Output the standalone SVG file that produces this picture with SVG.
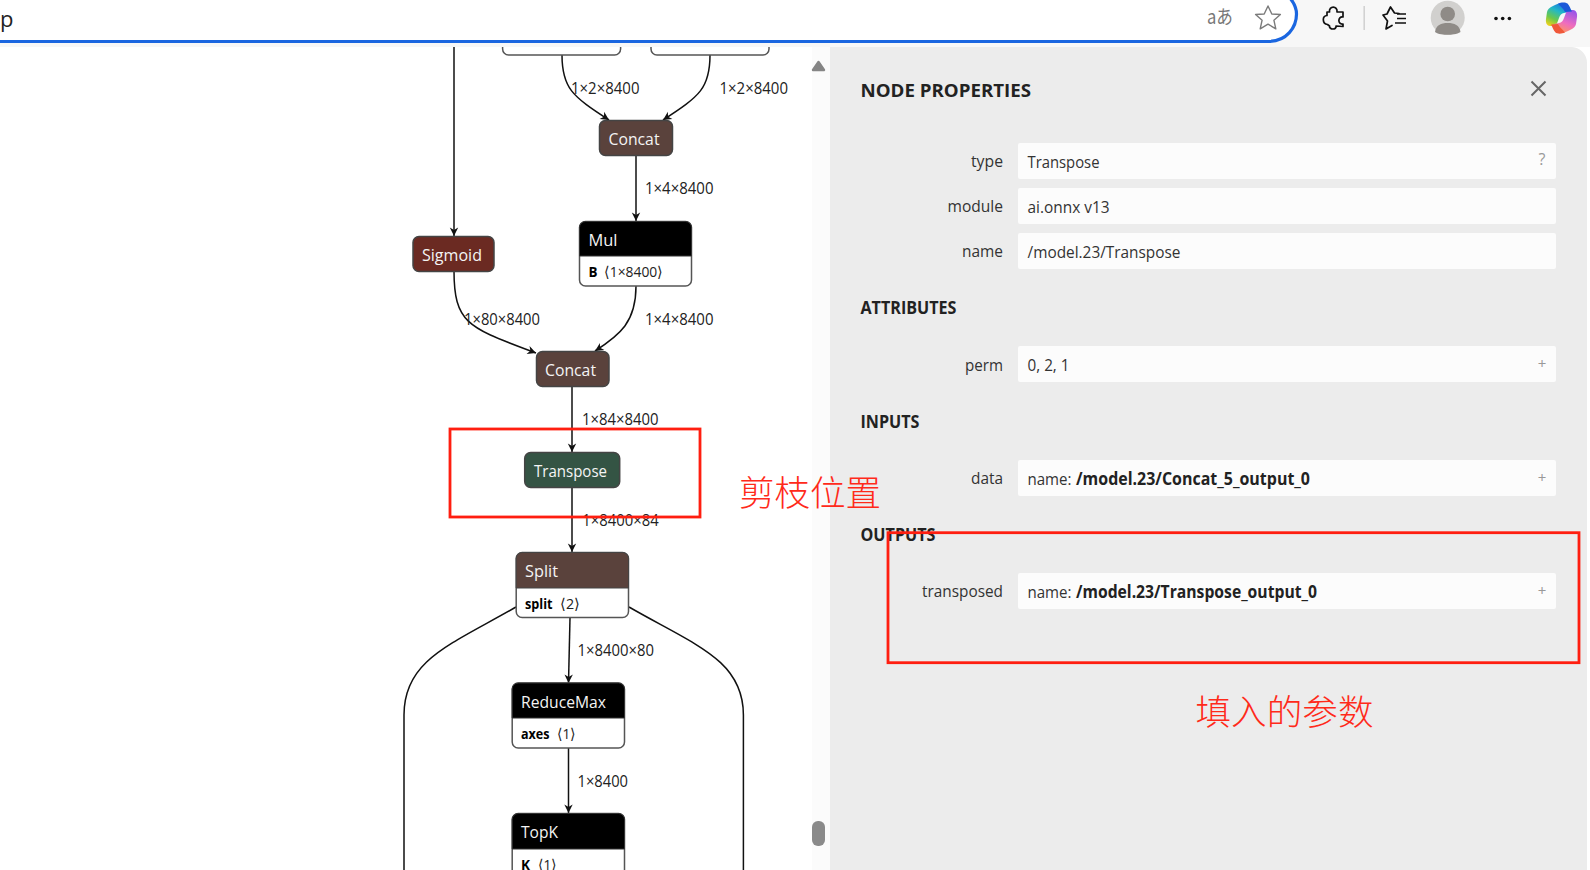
<svg xmlns="http://www.w3.org/2000/svg" width="1590" height="870" viewBox="0 0 1590 870">
<style>
text{font-family:"Open Sans","Noto Sans",sans-serif}
.edge{fill:none;stroke:#111;stroke-width:1.5}
.elab{font-size:15.5px;fill:#222}
.box{stroke:#444;stroke-width:1.5}
.title{font-size:17px;fill:#f4f4f4}
.attr{font-size:13.5px;fill:#000;font-weight:700}
.val{font-size:14.5px;fill:#222}
.body{fill:#fff;stroke:#555;stroke-width:1.5}
.field{fill:#fcfcfc}
.plabel{font-size:17px;fill:#333}
.pval{font-size:17px;fill:#333}
.pbold{font-size:17px;fill:#222;font-weight:700}
.phead{font-size:17px;fill:#222;font-weight:700}
.sign{font-size:15px;fill:#999}
.red{fill:none;stroke:#ff1e10;stroke-width:2.8}
.cjk{font-family:"Noto Sans CJK SC",sans-serif;font-size:35px;font-weight:300;fill:#ff2a1a}
</style>
<defs>
<marker id="arrow" markerUnits="userSpaceOnUse" markerWidth="10" markerHeight="10" refX="9" refY="5" orient="auto">
<path d="M0.5 0.8 L9 5 L0.5 9.2 L3 5 Z" fill="#111"/>
</marker>
<linearGradient id="copL" x1="0.7" y1="0" x2="0.2" y2="1">
<stop offset="0" stop-color="#1a6fe0"/><stop offset="0.35" stop-color="#22b8c8"/><stop offset="0.7" stop-color="#6cc84a"/><stop offset="1" stop-color="#ecd21e"/>
</linearGradient>
<linearGradient id="copR" x1="0.7" y1="0" x2="0.3" y2="1">
<stop offset="0" stop-color="#9a55e8"/><stop offset="0.55" stop-color="#ee6cc0"/><stop offset="1" stop-color="#ff9a5a"/>
</linearGradient>
</defs>

<rect x="0" y="0" width="1590" height="870" fill="#fff"/>
<rect x="812" y="47" width="18" height="823" fill="#fbfbfb"/>

<g id="connectors">
<path class="edge" d="M454 47 L454 236" marker-end="url(#arrow)"/>
<path class="edge" d="M562 55 C562 88 572 96 609 120" marker-end="url(#arrow)"/>
<path class="edge" d="M710 55 C710 88 700 96 663 120" marker-end="url(#arrow)"/>
<path class="edge" d="M636 156 L636 221" marker-end="url(#arrow)"/>
<path class="edge" d="M454 271 C454 325 470 328 536 353" marker-end="url(#arrow)"/>
<path class="edge" d="M636 286 C636 322 620 335 595 351" marker-end="url(#arrow)"/>
<path class="edge" d="M572 387 L572 452" marker-end="url(#arrow)"/>
<path class="edge" d="M572 487 L572 552" marker-end="url(#arrow)"/>
<path class="edge" d="M570 618 L568.5 683" marker-end="url(#arrow)"/>
<path class="edge" d="M568.5 748 L568.5 813" marker-end="url(#arrow)"/>
<path class="edge" d="M516 607 C450 645 404 660 404 715 L404 870"/>
<path class="edge" d="M629 607 C695 645 743.4 660 743.4 715 L743.4 870"/>
<text class="elab" x="571" y="93.5" textLength="68.5" lengthAdjust="spacingAndGlyphs">1×2×8400</text>
<text class="elab" x="719.5" y="93.5" textLength="68.5" lengthAdjust="spacingAndGlyphs">1×2×8400</text>
<text class="elab" x="645" y="193.5" textLength="68.5" lengthAdjust="spacingAndGlyphs">1×4×8400</text>
<text class="elab" x="464" y="324.5" textLength="76" lengthAdjust="spacingAndGlyphs">1×80×8400</text>
<text class="elab" x="645" y="324.5" textLength="68.5" lengthAdjust="spacingAndGlyphs">1×4×8400</text>
<text class="elab" x="582" y="424.5" textLength="76.5" lengthAdjust="spacingAndGlyphs">1×84×8400</text>
<text class="elab" x="582.2" y="525.5" textLength="76.5" lengthAdjust="spacingAndGlyphs">1×8400×84</text>
<text class="elab" x="577.5" y="655.5" textLength="76.5" lengthAdjust="spacingAndGlyphs">1×8400×80</text>
<text class="elab" x="577.5" y="786.5" textLength="50.5" lengthAdjust="spacingAndGlyphs">1×8400</text>
</g>

<g id="node-top-left"><rect class="body" x="502.6" y="20" width="118" height="35" rx="6"/></g>
<g id="node-top-right"><rect class="body" x="651" y="20" width="118" height="35" rx="6"/></g>

<g id="node-concat-1">
<rect class="box" x="599.5" y="120.5" width="73" height="35" rx="6" fill="#5a423c"/>
<text class="title" x="608.5" y="145" textLength="51" lengthAdjust="spacingAndGlyphs">Concat</text>
</g>
<g id="node-sigmoid">
<rect class="box" x="413" y="236.5" width="81" height="35" rx="6" fill="#6b2a22"/>
<text class="title" x="422" y="261" textLength="60" lengthAdjust="spacingAndGlyphs">Sigmoid</text>
</g>
<g id="node-mul">
<rect class="body" x="579.5" y="221.5" width="112" height="64.5" rx="6"/>
<path d="M579.5 256 L579.5 227.5 A6 6 0 0 1 585.5 221.5 L685.5 221.5 A6 6 0 0 1 691.5 227.5 L691.5 256 Z" fill="#000" stroke="#333" stroke-width="1"/>
<text class="title" x="588.5" y="246" textLength="29" lengthAdjust="spacingAndGlyphs">Mul</text>
<text class="attr" x="588.5" y="277" textLength="9" lengthAdjust="spacingAndGlyphs">B</text>
<text class="val" x="604" y="277" textLength="59" lengthAdjust="spacingAndGlyphs">⟨1×8400⟩</text>
</g>
<g id="node-concat-2">
<rect class="box" x="536.5" y="351.5" width="72.5" height="35" rx="6" fill="#5a423c"/>
<text class="title" x="545" y="376" textLength="51" lengthAdjust="spacingAndGlyphs">Concat</text>
</g>
<g id="node-transpose">
<rect class="box" x="524.7" y="452.5" width="95" height="35" rx="6" fill="#345444"/>
<text class="title" x="534" y="477" textLength="73" lengthAdjust="spacingAndGlyphs">Transpose</text>
</g>
<g id="node-split">
<rect class="body" x="516.2" y="552.5" width="112.3" height="65" rx="6"/>
<path d="M516.2 588 L516.2 558.5 A6 6 0 0 1 522.2 552.5 L622.5 552.5 A6 6 0 0 1 628.5 558.5 L628.5 588 Z" fill="#5a423c" stroke="#444" stroke-width="1"/>
<text class="title" x="525" y="577" textLength="33" lengthAdjust="spacingAndGlyphs">Split</text>
<text class="attr" x="525" y="609" textLength="27.5" lengthAdjust="spacingAndGlyphs">split</text>
<text class="val" x="560" y="609" textLength="20" lengthAdjust="spacingAndGlyphs">⟨2⟩</text>
</g>
<g id="node-reducemax">
<rect class="body" x="512.2" y="683" width="112.3" height="65" rx="6"/>
<path d="M512.2 718 L512.2 689 A6 6 0 0 1 518.2 683 L618.5 683 A6 6 0 0 1 624.5 689 L624.5 718 Z" fill="#000" stroke="#333" stroke-width="1"/>
<text class="title" x="521" y="707.5" textLength="85" lengthAdjust="spacingAndGlyphs">ReduceMax</text>
<text class="attr" x="521" y="739" textLength="28.5" lengthAdjust="spacingAndGlyphs">axes</text>
<text class="val" x="557" y="739" textLength="19" lengthAdjust="spacingAndGlyphs">⟨1⟩</text>
</g>
<g id="node-topk">
<rect class="body" x="512.2" y="813.5" width="112.3" height="70" rx="6"/>
<path d="M512.2 849 L512.2 819.5 A6 6 0 0 1 518.2 813.5 L618.5 813.5 A6 6 0 0 1 624.5 819.5 L624.5 849 Z" fill="#000" stroke="#333" stroke-width="1"/>
<text class="title" x="521" y="838" textLength="37" lengthAdjust="spacingAndGlyphs">TopK</text>
<text class="attr" x="521" y="869.5" textLength="9" lengthAdjust="spacingAndGlyphs">K</text>
<text class="val" x="538" y="869.5" textLength="19" lengthAdjust="spacingAndGlyphs">⟨1⟩</text>
</g>

<polygon id="scroll-up" points="818.5,62 824,70 813,70" fill="#858585" stroke="#858585" stroke-width="2.4" stroke-linejoin="round"/>
<rect id="scroll-thumb" x="812" y="821" width="13" height="25" rx="6" fill="#8a8a8a"/>

<g id="panel">
<path d="M830 47 L1572 47 A16 16 0 0 1 1587 63 L1587 870 L830 870 Z" fill="#ececec"/>
<text class="phead" x="860.5" y="97" textLength="170.5" lengthAdjust="spacingAndGlyphs" style="font-size:18px">NODE PROPERTIES</text>
<path d="M1531.5 81.5 L1545.5 95.5 M1545.5 81.5 L1531.5 95.5" stroke="#666" stroke-width="2" fill="none"/>
<rect class="field" x="1018" y="143" width="538" height="36" rx="2"/>
<rect class="field" x="1018" y="188" width="538" height="36" rx="2"/>
<rect class="field" x="1018" y="233" width="538" height="36" rx="2"/>
<rect class="field" x="1018" y="346" width="538" height="36" rx="2"/>
<rect class="field" x="1018" y="460" width="538" height="36" rx="2"/>
<rect class="field" x="1018" y="573" width="538" height="36" rx="2"/>
<text class="plabel" x="971" y="167" textLength="32" lengthAdjust="spacingAndGlyphs">type</text>
<text class="plabel" x="947.5" y="212" textLength="55.5" lengthAdjust="spacingAndGlyphs">module</text>
<text class="plabel" x="962" y="257" textLength="41" lengthAdjust="spacingAndGlyphs">name</text>
<text class="phead" x="860.5" y="314" textLength="96" lengthAdjust="spacingAndGlyphs">ATTRIBUTES</text>
<text class="plabel" x="965" y="370.5" textLength="38" lengthAdjust="spacingAndGlyphs">perm</text>
<text class="phead" x="860.5" y="428" textLength="59" lengthAdjust="spacingAndGlyphs">INPUTS</text>
<text class="plabel" x="971" y="484" textLength="32" lengthAdjust="spacingAndGlyphs">data</text>
<text class="phead" x="860.5" y="541" textLength="75" lengthAdjust="spacingAndGlyphs">OUTPUTS</text>
<text class="plabel" x="922" y="597" textLength="81" lengthAdjust="spacingAndGlyphs">transposed</text>
<text class="pval" x="1027.5" y="168" textLength="72" lengthAdjust="spacingAndGlyphs">Transpose</text>
<text class="pval" x="1027.5" y="213" textLength="82" lengthAdjust="spacingAndGlyphs">ai.onnx v13</text>
<text class="pval" x="1027.5" y="258" textLength="153" lengthAdjust="spacingAndGlyphs">/model.23/Transpose</text>
<text class="pval" x="1027.5" y="371" textLength="42" lengthAdjust="spacingAndGlyphs">0, 2, 1</text>
<text class="pval" x="1027.5" y="484.5" textLength="44" lengthAdjust="spacingAndGlyphs">name:</text>
<text class="pbold" x="1076" y="484.5" textLength="234" lengthAdjust="spacingAndGlyphs">/model.23/Concat_5_output_0</text>
<text class="pval" x="1027.5" y="597.5" textLength="44" lengthAdjust="spacingAndGlyphs">name:</text>
<text class="pbold" x="1076" y="597.5" textLength="241" lengthAdjust="spacingAndGlyphs">/model.23/Transpose_output_0</text>
<text class="sign" x="1542" y="165" text-anchor="middle" style="font-size:16px">?</text>
<text class="sign" x="1542" y="369" text-anchor="middle">+</text>
<text class="sign" x="1542" y="483" text-anchor="middle">+</text>
<text class="sign" x="1542" y="596" text-anchor="middle">+</text>
</g>

<g id="toolbar">
<rect x="0" y="0" width="1590" height="47" fill="#f7f7f7"/>
<path d="M0 41.5 L1268 41.5 C1287 41.5 1296.5 27 1296.5 14 C1296.5 8 1294 3 1290 -2 L0 -2 Z" fill="#fff"/>
<path d="M-3 41.5 L1268 41.5 C1287 41.5 1296.5 27 1296.5 14 C1296.5 8 1294 3 1290 -2" fill="none" stroke="#1a66e0" stroke-width="3.2"/>
<text x="0" y="27" font-size="22" fill="#222">p</text>
<text x="1207" y="24" style="font-family:'Noto Sans CJK JP',sans-serif;font-size:19px;fill:#777" textLength="26" lengthAdjust="spacingAndGlyphs">aあ</text>
<path d="M1268 6 L1271.8 14 L1280.4 14.5 L1273.9 20.2 L1275.8 28.8 L1268 24.2 L1260.2 28.8 L1262.1 20.2 L1255.6 14.5 L1264.2 14 Z" fill="none" stroke="#7b7b7b" stroke-width="1.4" stroke-linejoin="round"/>
<path d="M1329.5 12 C1328.5 5.5 1338 5.5 1337 12 L1343 12 L1343 17 C1337.5 16 1337.5 25 1343 24 L1343 26.5 L1336 26 C1337 30 1329 30 1329.5 26 L1327.5 24.5 C1322 24 1322 15.5 1327 15.5 L1327 12 Z" fill="none" stroke="#111" stroke-width="1.7" stroke-linejoin="round"/>
<rect x="1363.4" y="6" width="1.6" height="24" fill="#d2d2d2"/>
<path d="M1399 13.5 L1394.5 13 L1390.5 7 L1387 14 L1383 15 L1387.5 21 L1386 29 L1392 25.5" fill="none" stroke="#111" stroke-width="1.7" stroke-linejoin="round" stroke-linecap="round"/>
<path d="M1397 14 H1406 M1397 18.5 H1406 M1395 23 H1406" stroke="#111" stroke-width="1.7" fill="none"/>
<g id="avatar">
<circle cx="1447.7" cy="17.7" r="17" fill="#d1d0ce"/>
<circle cx="1447.7" cy="14" r="7.3" fill="#8f8b87"/>
<path d="M1435 32 C1436 25 1441 23 1447.7 23 C1454.4 23 1459.5 25 1460.5 32 C1457 34.5 1451 34.7 1447.7 34.7 C1444 34.7 1438 34.5 1435 32 Z" fill="#8f8b87"/>
</g>
<circle cx="1496" cy="18.5" r="1.8" fill="#111"/><circle cx="1502.7" cy="18.5" r="1.8" fill="#111"/><circle cx="1509.4" cy="18.5" r="1.8" fill="#111"/>
<g id="copilot">
<path d="M1552 6.5 C1556 4 1560 3 1564 3 L1569 12 L1564 13 C1561.5 13.5 1560 15 1559 18 L1556 26 L1550 26 C1546.5 26 1545.5 22 1546 19 L1547 12 C1547.5 9.5 1549.5 7.5 1552 6.5 Z" fill="url(#copL)"/>
<path d="M1571 29.5 C1567 32 1563 33 1559 33 L1554 24 L1559 23 C1561.5 22.5 1563 21 1564 18 L1567 10 L1573 10 C1576.5 10 1577.5 14 1577 17 L1576 24 C1575.5 26.5 1573.5 28.5 1571 29.5 Z" fill="url(#copR)"/>
<path d="M1558 3.5 C1561 2 1566 2 1567.5 3.5 C1569.5 5.5 1570.5 9 1572 11.5 L1565 12 C1564 9 1561 7 1558 3.5 Z" fill="#1a58d8"/>
<path d="M1565 32.5 C1562 34 1557 34 1555.5 32.5 C1553.5 30.5 1552.5 27 1551 24.5 L1558 24 C1559 27 1562 29 1565 32.5 Z" fill="#f0583a"/>
</g>
</g>

<g id="annotations">
<rect class="red" x="450" y="429" width="250" height="88"/>
<text class="cjk" x="739" y="506" textLength="142" lengthAdjust="spacingAndGlyphs">剪枝位置</text>
<rect class="red" x="888" y="532.7" width="691" height="130"/>
<text class="cjk" x="1195.5" y="725" textLength="178" lengthAdjust="spacingAndGlyphs">填入的参数</text>
</g>
</svg>
